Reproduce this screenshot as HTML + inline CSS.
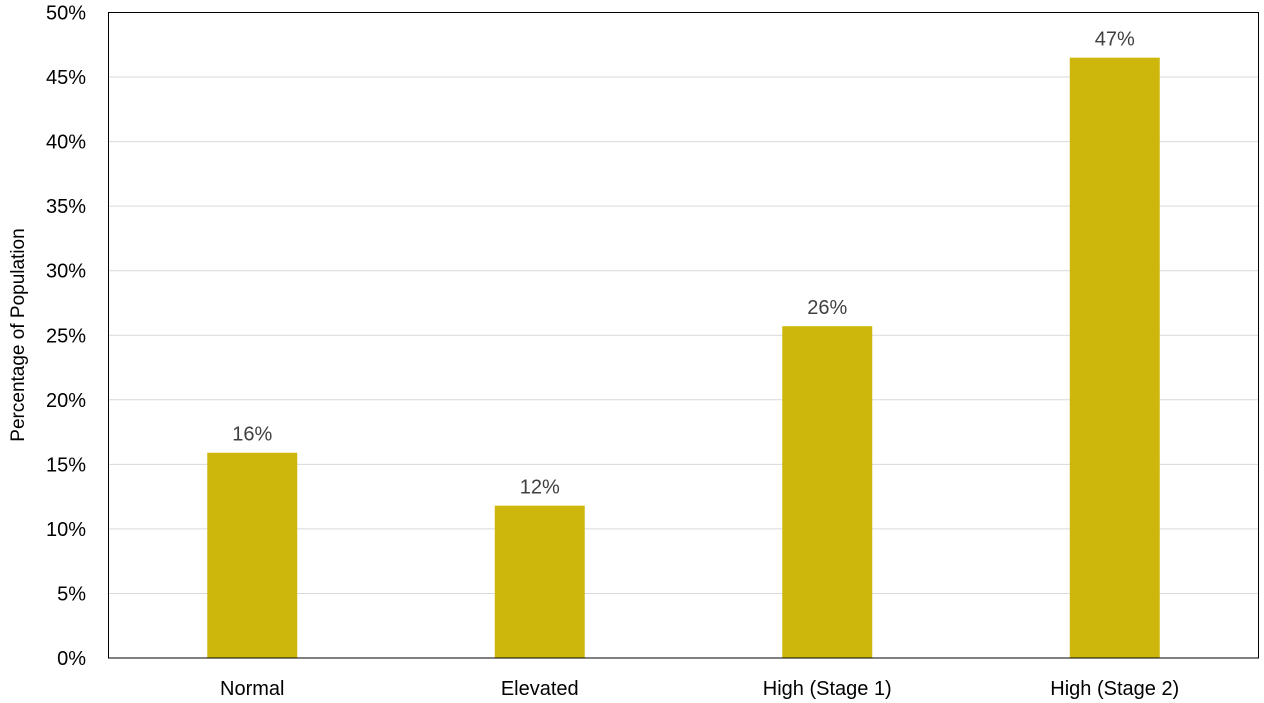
<!DOCTYPE html>
<html><head><meta charset="utf-8"><style>
body{margin:0;background:#fff;}
svg{display:block;font-family:"Liberation Sans",Arial,sans-serif;}
</style></head><body>
<svg id="chart" width="1264" height="703" xmlns="http://www.w3.org/2000/svg"></svg>
<script>
const categories = ["Normal", "Elevated", "High (Stage 1)", "High (Stage 2)"];
const values = [15.9, 11.8, 25.7, 46.5];
const valueLabels = ["16%", "12%", "26%", "47%"];
const yTicks = [0, 5, 10, 15, 20, 25, 30, 35, 40, 45, 50];

const svg = document.getElementById('chart');
const NS = 'http://www.w3.org/2000/svg';
const L = 108.5, R = 1258.5, T = 12.5, B = 658;
const yMax = 50;
function y(v){ return B - (v / yMax) * (B - T); }
const band = (R - L) / categories.length;
function xc(i){ return L + band * (i + 0.5); }
const barW = 90;
function mk(tag, attrs, text){
  const e = document.createElementNS(NS, tag);
  for (const k in attrs) e.setAttribute(k, attrs[k]);
  if (text !== undefined) e.textContent = text;
  svg.appendChild(e);
  return e;
}
yTicks.forEach(t => {
  if (t > 0 && t < yMax) {
    const g = mk('line', {x1: L, x2: R, y1: y(t), y2: y(t), stroke: '#d9d9d9', 'stroke-width': 1});
    
    
  }
  const lb = mk('text', {x: 86, y: y(t) + 7, 'text-anchor': 'end', 'font-size': 20, fill: '#000'}, t + '%');
  
  
});
categories.forEach((c, i) => {
  const b = mk('rect', {x: xc(i) - barW / 2, y: y(values[i]), width: barW, height: B - y(values[i]), fill: '#CDB70D'});
  
  
  const v = mk('text', {x: xc(i), y: y(values[i]) - 12, 'text-anchor': 'middle', 'font-size': 20, fill: '#404040'}, valueLabels[i]);
  
  
  const xl = mk('text', {x: xc(i), y: 695, 'text-anchor': 'middle', 'font-size': 20, fill: '#000'}, c);
  
  
});
const frame = mk('rect', {x: L, y: T, width: R - L, height: B - T, fill: 'none', stroke: '#000', 'stroke-width': 1});


const yt = mk('text', {x: 0, y: 0, transform: 'translate(24,335) rotate(-90)', 'text-anchor': 'middle', 'font-size': 19, fill: '#000'}, 'Percentage of Population');


</script>
</body></html>
